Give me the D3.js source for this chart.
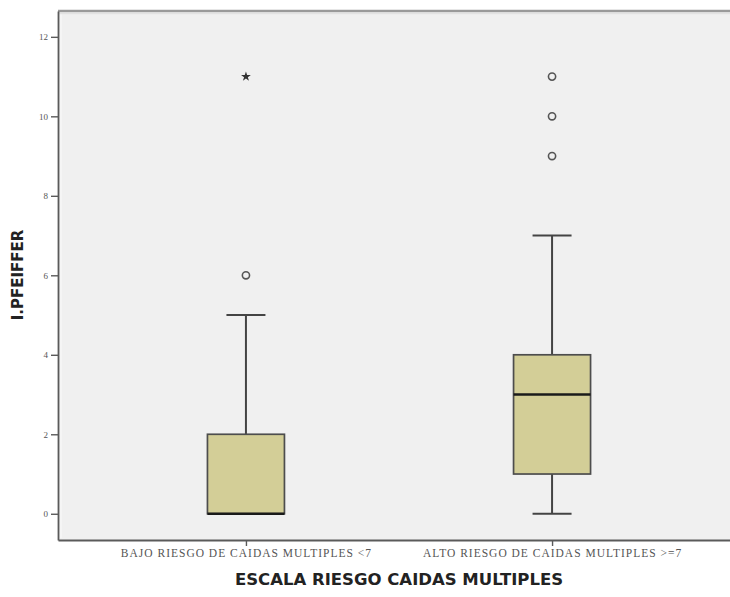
<!DOCTYPE html>
<html>
<head>
<meta charset="utf-8">
<script src="https://cdn.jsdelivr.net/npm/d3@7"></script>
<style>
  html, body { margin: 0; padding: 0; background: #ffffff; }
  svg { display: block; }
</style>
</head>
<body>
<svg id="chart" width="730" height="597"></svg>
<script>
// Boxplot of I.PFEIFFER by multiple-fall risk group
const categories = ["BAJO RIESGO DE CAIDAS MULTIPLES <7", "ALTO RIESGO DE CAIDAS MULTIPLES >=7"];
const whiskerLow  = [0, 0];
const q1          = [0, 1];
const median      = [0, 3];
const q3          = [2, 4];
const whiskerHigh = [5, 7];
const outliers    = [[6], [9, 10, 11]];   // drawn as circles
const extremes    = [[11], []];           // drawn as stars
const yTicks      = [0, 2, 4, 6, 8, 10, 12];
const yTitle = "I.PFEIFFER";
const xTitle = "ESCALA RIESGO CAIDAS MULTIPLES";

const svg = d3.select("#chart");
const plot = { left: 58, top: 11, right: 740, bottom: 540 };

const y = d3.scaleLinear().domain([-0.66, 12.65]).range([plot.bottom, plot.top]);
const x = d3.scalePoint().domain(categories).range([plot.left, plot.right]).padding(0.614);

const boxW = 77, capW = 39;
const dark = "#444444";

// plot background
svg.append("rect")
  .attr("x", plot.left).attr("y", plot.top)
  .attr("width", plot.right - plot.left).attr("height", plot.bottom - plot.top)
  .attr("fill", "#f0f0f0");

// inner soft edge
svg.append("line")
  .attr("x1", plot.left + 3).attr("x2", plot.left + 3)
  .attr("y1", plot.top + 2).attr("y2", plot.bottom - 2)
  .attr("stroke", "#f7f7f7").attr("stroke-width", 1.5);

const rows = categories.map((c, i) => ({
  c, lo: whiskerLow[i], q1: q1[i], med: median[i], q3: q3[i], hi: whiskerHigh[i],
  out: outliers[i], ext: extremes[i]
}));

const g = svg.append("g").selectAll("g").data(rows).join("g");

// whiskers
g.append("line")
  .attr("x1", d => x(d.c)).attr("x2", d => x(d.c))
  .attr("y1", d => y(d.q3)).attr("y2", d => y(d.hi))
  .attr("stroke", dark).attr("stroke-width", 2);
g.append("line")
  .attr("x1", d => x(d.c)).attr("x2", d => x(d.c))
  .attr("y1", d => y(d.lo)).attr("y2", d => y(d.q1))
  .attr("stroke", dark).attr("stroke-width", 2);
g.append("line")
  .attr("x1", d => x(d.c) - capW / 2).attr("x2", d => x(d.c) + capW / 2)
  .attr("y1", d => y(d.hi)).attr("y2", d => y(d.hi))
  .attr("stroke", dark).attr("stroke-width", 2);
g.filter(d => d.lo < d.q1).append("line")
  .attr("x1", d => x(d.c) - capW / 2).attr("x2", d => x(d.c) + capW / 2)
  .attr("y1", d => y(d.lo)).attr("y2", d => y(d.lo))
  .attr("stroke", dark).attr("stroke-width", 2);

// boxes
g.append("rect")
  .attr("x", d => x(d.c) - boxW / 2).attr("width", boxW)
  .attr("y", d => y(d.q3)).attr("height", d => y(d.q1) - y(d.q3))
  .attr("fill", "#d3ce97").attr("stroke", "#4d4d4d").attr("stroke-width", 1.7);

// medians
g.append("line")
  .attr("x1", d => x(d.c) - boxW / 2).attr("x2", d => x(d.c) + boxW / 2)
  .attr("y1", d => y(d.med)).attr("y2", d => y(d.med))
  .attr("stroke", "#1a1a1a").attr("stroke-width", 2.6);

// outliers
g.selectAll("circle").data(d => d.out.map(v => ({ c: d.c, v }))).join("circle")
  .attr("cx", d => x(d.c)).attr("cy", d => y(d.v)).attr("r", 3.6)
  .attr("fill", "none").attr("stroke", "#555555").attr("stroke-width", 1.6);

// extreme values
g.selectAll("path.ext").data(d => d.ext.map(v => ({ c: d.c, v }))).join("path")
  .attr("class", "ext")
  .attr("transform", d => `translate(${x(d.c)},${y(d.v)})`)
  .attr("d", d3.symbol(d3.symbolStar, 30))
  .attr("fill", "#333333");

// frame: top border
svg.append("line")
  .attr("x1", plot.left).attr("x2", 730).attr("y1", plot.top).attr("y2", plot.top)
  .attr("stroke", "#9a9a9a").attr("stroke-width", 2.5);
svg.append("line")
  .attr("x1", plot.left).attr("x2", 730).attr("y1", plot.top + 2.5).attr("y2", plot.top + 2.5)
  .attr("stroke", "#e2e2e2").attr("stroke-width", 1.5);

// y axis
const yAxis = svg.append("g")
  .attr("transform", `translate(${plot.left},0)`)
  .call(d3.axisLeft(y).tickValues(yTicks).tickSize(7).tickPadding(3).tickSizeOuter(0));
yAxis.select(".domain").attr("stroke", "#5a5a5a").attr("stroke-width", 1.8);
yAxis.selectAll(".tick line").attr("stroke", "#5a5a5a").attr("stroke-width", 1.4);
yAxis.selectAll(".tick text")
  .attr("font-family", "'Liberation Serif', serif").attr("font-size", 9).attr("fill", "#555");

// x axis
const xAxis = svg.append("g")
  .attr("transform", `translate(0,${plot.bottom})`)
  .call(d3.axisBottom(x).tickSize(6).tickPadding(3).tickSizeOuter(0));
xAxis.select(".domain").attr("stroke", "#5a5a5a").attr("stroke-width", 2);
xAxis.selectAll(".tick line").attr("stroke", "#5a5a5a").attr("stroke-width", 1.4);
xAxis.selectAll(".tick text")
  .attr("font-family", "'Liberation Serif', serif").attr("font-size", 11.5)
  .attr("letter-spacing", 1).attr("fill", "#555");

// axis titles
svg.append("text")
  .attr("transform", `translate(23,275) rotate(-90)`)
  .attr("text-anchor", "middle")
  .attr("font-family", "'DejaVu Sans', sans-serif").attr("font-weight", "bold")
  .attr("font-size", 15).attr("fill", "#222")
  .text(yTitle);

svg.append("text")
  .attr("x", 399).attr("y", 585)
  .attr("text-anchor", "middle")
  .attr("font-family", "'DejaVu Sans', sans-serif").attr("font-weight", "bold")
  .attr("font-size", 16.5).attr("fill", "#222")
  .text(xTitle);
</script>
</body>
</html>
